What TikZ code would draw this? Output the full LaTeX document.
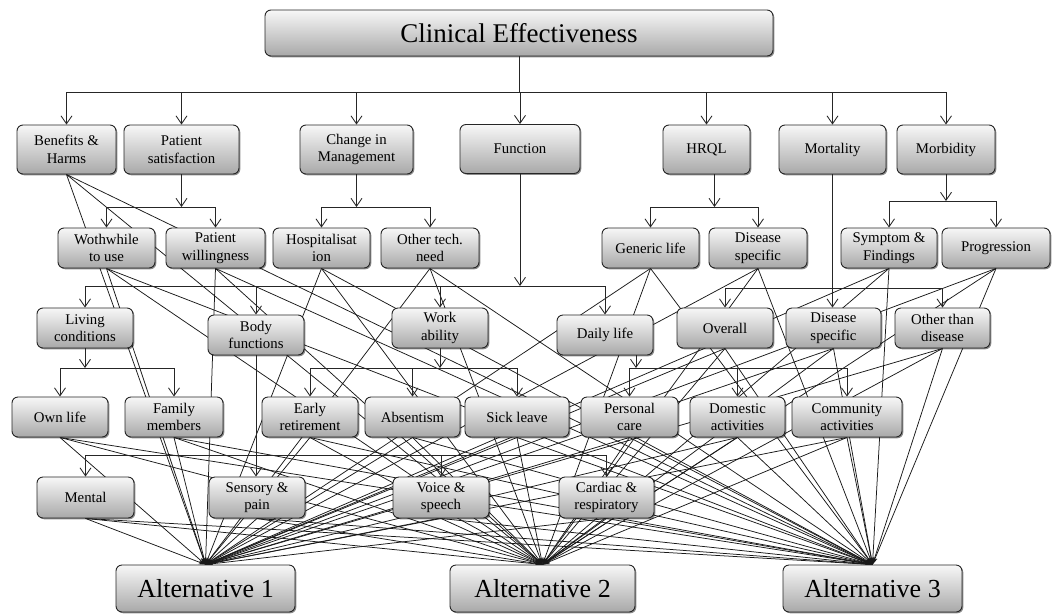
\documentclass[tikz,border=0pt]{standalone}
\usepackage{fontspec}
\setmainfont{Liberation Serif}
\usetikzlibrary{arrows.meta,shadows,backgrounds,calc}

\begin{document}
\begin{tikzpicture}[x=1pt,y=-1pt,
  box/.style={draw=black!85, line width=0.9pt, rounded corners=6pt,
    top color=black!3, bottom color=black!34,
    drop shadow={shadow xshift=1.3pt, shadow yshift=-1.3pt, fill=black, opacity=0.45},
    inner sep=1pt, align=center, text=black,
    font=\fontsize{14.8}{17.5}\selectfont},
  bx/.style 2 args={box, minimum width=#1pt, minimum height=#2pt},
  big/.style={font=\fontsize{26}{30}\selectfont},
  hline/.style={line width=0.85pt, draw=black!85},
  harr/.style={hline, -{Straight Barb[length=8pt,width=11pt]}},
  larr/.style={line width=0.75pt, draw=black!90, -{Stealth[length=7pt,width=4.5pt]}}]

\useasboundingbox (0,0) rectangle (1053,614);
\begin{pgfonlayer}{background}
  \fill[white] (0,0) rectangle (1053,614);
\end{pgfonlayer}

% ---------- goal ----------
\node[bx={508}{46}, font=\fontsize{27}{30}\selectfont] (ce) at (519,33) {Clinical Effectiveness};

% ---------- main criteria ----------
\node[bx={99}{49}]  (bh) at (66.5,149.5)  {Benefits \&\\Harms};
\node[bx={115}{49}] (ps) at (181.5,149.5) {Patient\\satisfaction};
\node[bx={113}{49}] (cm) at (356.5,149.5) {Change in\\Management};
\node[bx={120}{49}] (fn) at (520,149)     {Function};
\node[bx={87}{49}]  (hq) at (706.5,149.5) {HRQL};
\node[bx={107}{49}] (mt) at (832.5,149.5) {Mortality};
\node[bx={98}{49}]  (mb) at (946,149.5)   {Morbidity};

% ---------- second level ----------
\node[bx={97}{40}]  (ww)  at (106.5,248) {Wothwhile\\to use};
\node[bx={99}{40}]  (pw)  at (215.5,248) {Patient\\willingness};
\node[bx={97}{40}]  (ho)  at (321.5,248) {Hospitalisat\\ion};
\node[bx={98}{40}]  (ot)  at (430,248)   {Other tech.\\need};
\node[bx={97}{40}]  (gl)  at (650.5,248) {Generic life};
\node[bx={98}{40}]  (ds1) at (758,248)   {Disease\\specific};
\node[bx={96}{40}]  (sf)  at (889,248)   {Symptom \&\\Findings};
\node[bx={108}{40}] (pg)  at (996,248)   {Progression};

% ---------- third level ----------
\node[bx={96}{40}] (lc)  at (85,328)    {Living\\conditions};
\node[bx={96}{40}] (bf)  at (256,335)   {Body\\functions};
\node[bx={96}{40}] (wa)  at (440,328)   {Work\\ability};
\node[bx={96}{40}] (dl)  at (605,335)   {Daily life};
\node[bx={96}{40}] (ov)  at (725,328)   {Overall};
\node[bx={95}{40}] (ds2) at (833.5,328) {Disease\\specific};
\node[bx={95}{40}] (od)  at (942.5,328) {Other than\\disease};

% ---------- fourth level ----------
\node[bx={96}{40}]  (ol) at (60,417)    {Own life};
\node[bx={98}{40}]  (fm) at (174,417)   {Family\\members};
\node[bx={96}{40}]  (er) at (310,417)   {Early\\retirement};
\node[bx={95}{40}]  (ab) at (412.5,417) {Absentism};
\node[bx={104}{40}] (sl) at (517,417)   {Sick leave};
\node[bx={97}{40}]  (pc) at (629.5,417) {Personal\\care};
\node[bx={95}{40}]  (da) at (737.5,417) {Domestic\\activities};
\node[bx={110}{40}] (ca) at (847,417)   {Community\\activities};

% ---------- fifth level ----------
\node[bx={97}{41}] (me) at (85.5,497.5) {Mental};
\node[bx={96}{41}] (sp) at (257,497.5)  {Sensory \&\\pain};
\node[bx={96}{41}] (vs) at (441,497.5)  {Voice \&\\speech};
\node[bx={95}{41}] (cr) at (606.5,497.5) {Cardiac \&\\respiratory};

% ---------- alternatives ----------
\node[bx={179}{47}, big] (a1) at (205.5,588.5) {Alternative 1};
\node[bx={185}{47}, big] (a2) at (542.5,588.5) {Alternative 2};
\node[bx={179}{47}, big] (a3) at (872.5,588.5) {Alternative 3};

% ---------- bar levels of the hierarchy ----------
\coordinate (busA) at (0,92);
\coordinate (barB) at (0,207);
\coordinate (barM) at (0,201);
\coordinate (barF) at (0,286);
\coordinate (barH) at (0,288);
\coordinate (barD) at (0,368);
\coordinate (barS) at (0,455);
\coordinate (hqs) at ($(hq.south)+(8,0)$);
\coordinate (dls) at ($(dl.south)+(31,0)$);

% goal -> main criteria
\draw[hline] (ce.south) -- (ce.south |- busA);
\draw[hline] (bh.north |- busA) -- (mb.north |- busA);
\foreach \n in {bh,ps,cm,fn,hq,mt,mb}
  \draw[harr] (\n.north |- busA) -- (\n.north);

% patient satisfaction
\draw[harr] (ps.south) -- (ps.south |- barB);
\draw[hline] (ww.north |- barB) -- (pw.north |- barB);
\foreach \n in {ww,pw} \draw[harr] (\n.north |- barB) -- (\n.north);

% change in management
\draw[harr] (cm.south) -- (cm.south |- barB);
\draw[hline] (ho.north |- barB) -- (ot.north |- barB);
\foreach \n in {ho,ot} \draw[harr] (\n.north |- barB) -- (\n.north);

% HRQL
\draw[harr] (hqs) -- (hqs |- barB);
\draw[hline] (gl.north |- barB) -- (ds1.north |- barB);
\foreach \n in {gl,ds1} \draw[harr] (\n.north |- barB) -- (\n.north);

% morbidity
\draw[harr] (mb.south) -- (mb.south |- barM);
\draw[hline] (sf.north |- barM) -- (pg.north |- barM);
\foreach \n in {sf,pg} \draw[harr] (\n.north |- barM) -- (\n.north);

% function
\draw[harr] (fn.south) -- (fn.south |- barF);
\draw[hline] (lc.north |- barF) -- (dl.north |- barF);
\foreach \n in {lc,bf,wa,dl} \draw[harr] (\n.north |- barF) -- (\n.north);

% mortality
\draw[harr] (mt.south) -- (mt.south |- ds2.north);
\draw[hline] (ov.north |- barH) -- (od.north |- barH);
\foreach \n in {ov,od} \draw[harr] (\n.north |- barH) -- (\n.north);

% living conditions
\draw[harr] (lc.south) -- (lc.south |- barD);
\draw[hline] (ol.north |- barD) -- (fm.north |- barD);
\foreach \n in {ol,fm} \draw[harr] (\n.north |- barD) -- (\n.north);

% work ability
\draw[harr] (wa.south) -- (wa.south |- barD);
\draw[hline] (er.north |- barD) -- (sl.north |- barD);
\foreach \n in {er,ab,sl} \draw[harr] (\n.north |- barD) -- (\n.north);

% daily life
\draw[harr] (dls) -- (dls |- barD);
\draw[hline] (pc.north |- barD) -- (ca.north |- barD);
\foreach \n in {pc,da,ca} \draw[harr] (\n.north |- barD) -- (\n.north);

% body functions
\draw[harr] (bf.south) -- (bf.south |- sp.north);
\draw[hline] (me.north |- barS) -- (cr.north |- barS);
\foreach \n in {me,vs,cr} \draw[harr] (\n.north |- barS) -- (\n.north);

% every bottom criterion feeds every alternative
\begin{pgfonlayer}{background}
\foreach \s in {bh,ww,pw,ho,ot,gl,ds1,sf,pg,ov,ds2,od,ol,fm,er,ab,sl,pc,da,ca,me,sp,vs,cr}
  \foreach \t in {a1,a2,a3}
    \draw[larr] (\s.south) -- (\t.north);
\end{pgfonlayer}

\end{tikzpicture}
\end{document}
